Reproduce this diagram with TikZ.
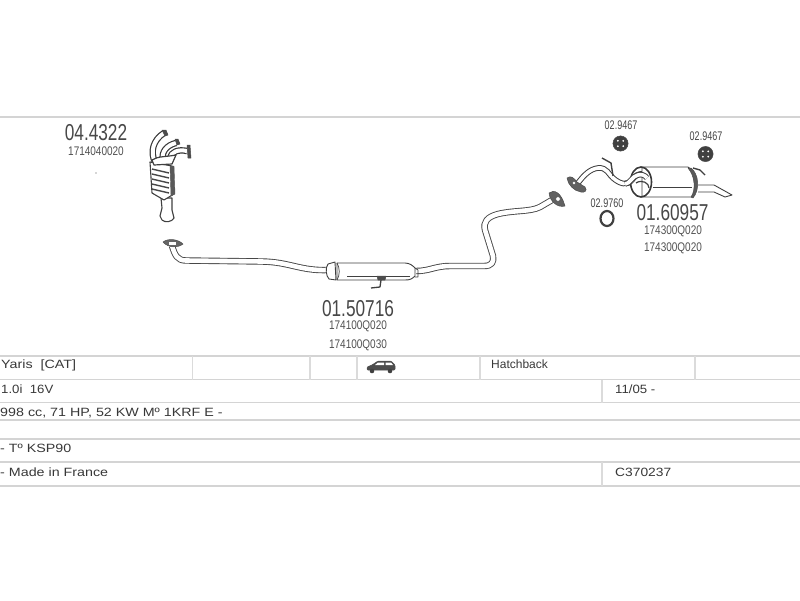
\documentclass[tikz,border=0pt]{standalone}
\usepackage{fontspec}
\setmainfont{Liberation Sans}
\begin{document}
\begin{tikzpicture}[x=1pt,y=-1pt,line join=round,
  rule/.style={draw=black!17,line width=1.8pt},
  thin rule/.style={draw=black!14,line width=1.4pt},
  pipe/.style={double=white,draw=black!72,line width=.9pt,double distance=4.6pt},
  rear pipe/.style={double=white,draw=black!75,line width=1pt,double distance=3.6pt},
  runner/.style={double=white,draw=black!78,line width=1.2pt,double distance=4pt},
  part/.style={draw=black!75,line width=.9pt,fill=white},
  dark/.style={fill=black!70,draw=black!70,line width=.5pt},
  big/.style={inner sep=0,text=black!72,font=\fontsize{23}{23}\selectfont,xscale=.75,transform shape},
  small/.style={inner sep=0,text=black!68,font=\fontsize{12.5}{13}\selectfont,xscale=.8,transform shape},
  tiny/.style={inner sep=0,text=black!72,font=\fontsize{12.5}{13}\selectfont,xscale=.72,transform shape},
  cell/.style={inner sep=0,anchor=west,text=black!78,font=\fontsize{12}{13}\selectfont,transform shape},
  wide/.style={cell,xscale=1.19}]
\useasboundingbox (0,0) rectangle (800,600);
% rules
\foreach \yy in {117,356,379.5,402.5,420,439,462,486} \draw[rule] (0,\yy) -- (800,\yy);
\foreach \xx in {192.5,310,357,480,695} \draw[thin rule] (\xx,356) -- (\xx,379.5);
\draw[thin rule] (602,379.5) -- (602,402.5);
\draw[thin rule] (602,462) -- (602,486);
% catalyst: outlet
\draw[part,line width=1.1pt] (161,198) -- (172,198) -- (172,210) -- (174,218) .. controls (172,222) and (165,223) .. (162,220) -- (160,216) -- (162,208) -- cycle;
% catalyst: body
\draw[part,line width=1.1pt] (150,162) -- (172,166) -- (174,194) -- (164,200) -- (152,193) -- cycle;
\foreach \yy in {169,174,179,184,189} \draw[black!72,line width=1.4pt] (152,\yy) -- (169,\yy+4);
\draw[fill=black!65,draw=black!65] (170,166) -- (174,166) -- (175,194) -- (171,196) -- cycle;
% catalyst: manifold
\draw[runner] (170,158) .. controls (171,152) and (178,149) .. (187,151);
\draw[runner] (163,160) .. controls (161,152) and (167,145) .. (176,143);
\draw[runner] (155,162) .. controls (150,152) and (153,140) .. (164,133);
\draw[part,line width=1.2pt] (152,160) .. controls (158,156) and (166,157) .. (176,155) -- (172,164) -- (154,165) -- cycle;
\draw[dark] (187,145) -- (190,145) -- (191,158) -- (188,158) -- cycle;
\draw[dark] (162,130) -- (166,130) -- (168,135) -- (165,136) -- cycle;
\draw[dark] (175,139) -- (178,139) -- (180,144) -- (177,145) -- cycle;
% front pipe
\draw[pipe] (172,246) .. controls (175,255) and (177,260.5) .. (186,260.5) -- (262,261.5) .. controls (290,262) and (300,271) .. (328,270);
\draw[dark,fill=black!60] (163,242) .. controls (168,238) and (178,239) .. (183,244) .. controls (178,248) and (168,248) .. (163,242) -- cycle;
\draw[fill=white,draw=none] (169,242) rectangle (176,244.5);
% flex pipe / centre silencer
\draw[pipe] (416,271) .. controls (430,271) and (435,266) .. (450,266) -- (484,266) .. controls (492,266) and (494,262) .. (493,256) -- (485,230) .. controls (483,222) and (487,217) .. (498,214) .. controls (515,210) and (530,212) .. (540,207) -- (552,200);
\draw[part] (328,264) -- (335,262) -- (336,280) -- (329,279) .. controls (326,276) and (325,268) .. (328,264) -- cycle;
\draw[part] (337,263) -- (405,263) .. controls (410,263) and (413,266) .. (415,268) -- (415,276) .. controls (412,279) and (410,280) .. (405,280) -- (337,280) -- cycle;
\draw[black!75,line width=.7pt] (347,276) -- (410,276);
\draw[black!75,line width=.7pt] (337,263) .. controls (340,268) and (340,275) .. (337,280);
\draw[black!75,line width=.7pt] (415,268) -- (418,270) -- (418,277) -- (415,277);
\draw[dark] (377,276) -- (386,276) -- (385,280) -- (378,280) -- cycle;
\draw[black!75,line width=1.3pt] (381,280) -- (380,287) -- (371,288);
% flange of flexible section
\draw[dark,fill=black!62] (549,193) .. controls (554,189) and (561,192) .. (565,206) .. controls (558,208) and (550,202) .. (549,193) -- cycle;
\draw[fill=white,draw=black!70,line width=.6pt] (558,199) circle (2.4);
% rear pipe
\draw[rear pipe] (578,183) .. controls (584,175) and (590,169) .. (598,168) .. controls (607,167) and (609,175) .. (613,178) .. controls (620,184) and (627,186) .. (632,180) .. controls (635,176) and (638,173) .. (644,174);
\draw[dark,fill=black!62] (567,178) .. controls (571,175) and (574,178) .. (577,182) -- (585,187) .. controls (588,191) and (584,193) .. (581,192) .. controls (574,191) and (568,185) .. (567,178) -- cycle;
\fill[white] (574,183) circle (1.3);
\draw[black!75,line width=1.4pt] (602,158) -- (611,163) -- (613,176);
% rear silencer
\draw[part] (698,185) -- (714,185) -- (732,195) -- (725,197) -- (714,192) -- (698,192);
\draw[part] (642,167) -- (688,167) .. controls (697,172) and (698,190) .. (692,197) -- (642,197) -- cycle;
\draw[black!75,line width=.8pt] (653,187) -- (692,187);
\draw[dark,fill=black!65] (691,168) .. controls (699,174) and (700,190) .. (693,198) -- (691,197) .. controls (696,190) and (695,176) .. (688,168) -- cycle;
\draw[black!75,line width=1.4pt] (693,168) -- (700,170) -- (705,175);
\draw[draw=black!78,line width=1.6pt] (641,182) ellipse (10.5 and 15);
\draw[rear pipe] (625,184) .. controls (630,184) and (632,176) .. (638,175) .. controls (641,174) and (645,175) .. (647,178);
\draw[draw=black!75,line width=1.2pt] (636,183) .. controls (642,179) and (649,183) .. (649,188);
% rubber hangers
\draw[dark,fill=black!75] (620.5,143.5) circle (7.6);
\draw[dark,fill=black!75] (705.5,154) circle (7.6);
\foreach \aa in {45,135,225,315} {\fill[white] (620.5,143.5)++(\aa:3.8) circle (1); \fill[white] (705.5,154)++(\aa:3.8) circle (1);}
\draw[draw=black!75,line width=2.2pt] (607,218.5) ellipse (6.5 and 7.5);
% car
\draw[fill=black!70,draw=black!70,line width=.5pt,rounded corners=1pt] (367,370) -- (367,367) -- (372,365) -- (378,361) -- (391,361) -- (395,365) -- (395,370) -- cycle;
\draw[fill=white,draw=none] (378,362.5) -- (384,362.5) -- (384,365) -- (375,365) -- cycle;
\draw[fill=white,draw=none] (385.5,362.5) -- (391,362.5) -- (393,365) -- (385.5,365) -- cycle;
\fill[black!75] (372,371) circle (2.3);
\fill[black!75] (390,371) circle (2.3);
% labels
\node[big] (n1) at (96,133) {04.4322};
\node[small] (n2) at (96,151) {1714040020};
\node[big] (n3) at (358,308.5) {01.50716};
\node[small] (n4) at (358,326.5) {174100Q020};
\node[small] (n5) at (358,345) {174100Q030};
\node[big] (n6) at (672.5,213) {01.60957};
\node[small] (n7) at (673,231) {174300Q020};
\node[small] (n8) at (673,248.5) {174300Q020};
\node[tiny] (n9) at (621,125) {02.9467};
\node[tiny] (n10) at (706,136) {02.9467};
\node[tiny] (n11) at (607,203) {02.9760};
\node[fill=black!70,circle,inner sep=.5pt] (dot) at (96,173) {};
% table text
\node[wide] (t1) at (1,365) {Yaris\ \ [CAT]};
\node[cell] (t2) at (491,364) {Hatchback};
\node[cell,xscale=1.1] (t3) at (1,389) {1.0i\ \ 16V};
\node[cell,xscale=1.1] (t4) at (615,389) {11/05 -};
\node[wide] (t5) at (0,413) {998 cc, 71 HP, 52 KW Mº 1KRF E -};
\node[wide] (t6) at (0,448) {- Tº KSP90};
\node[wide] (t7) at (0,472) {- Made in France};
\node[cell,xscale=1.15] (t8) at (615,472) {C370237};
\end{tikzpicture}
\end{document}
